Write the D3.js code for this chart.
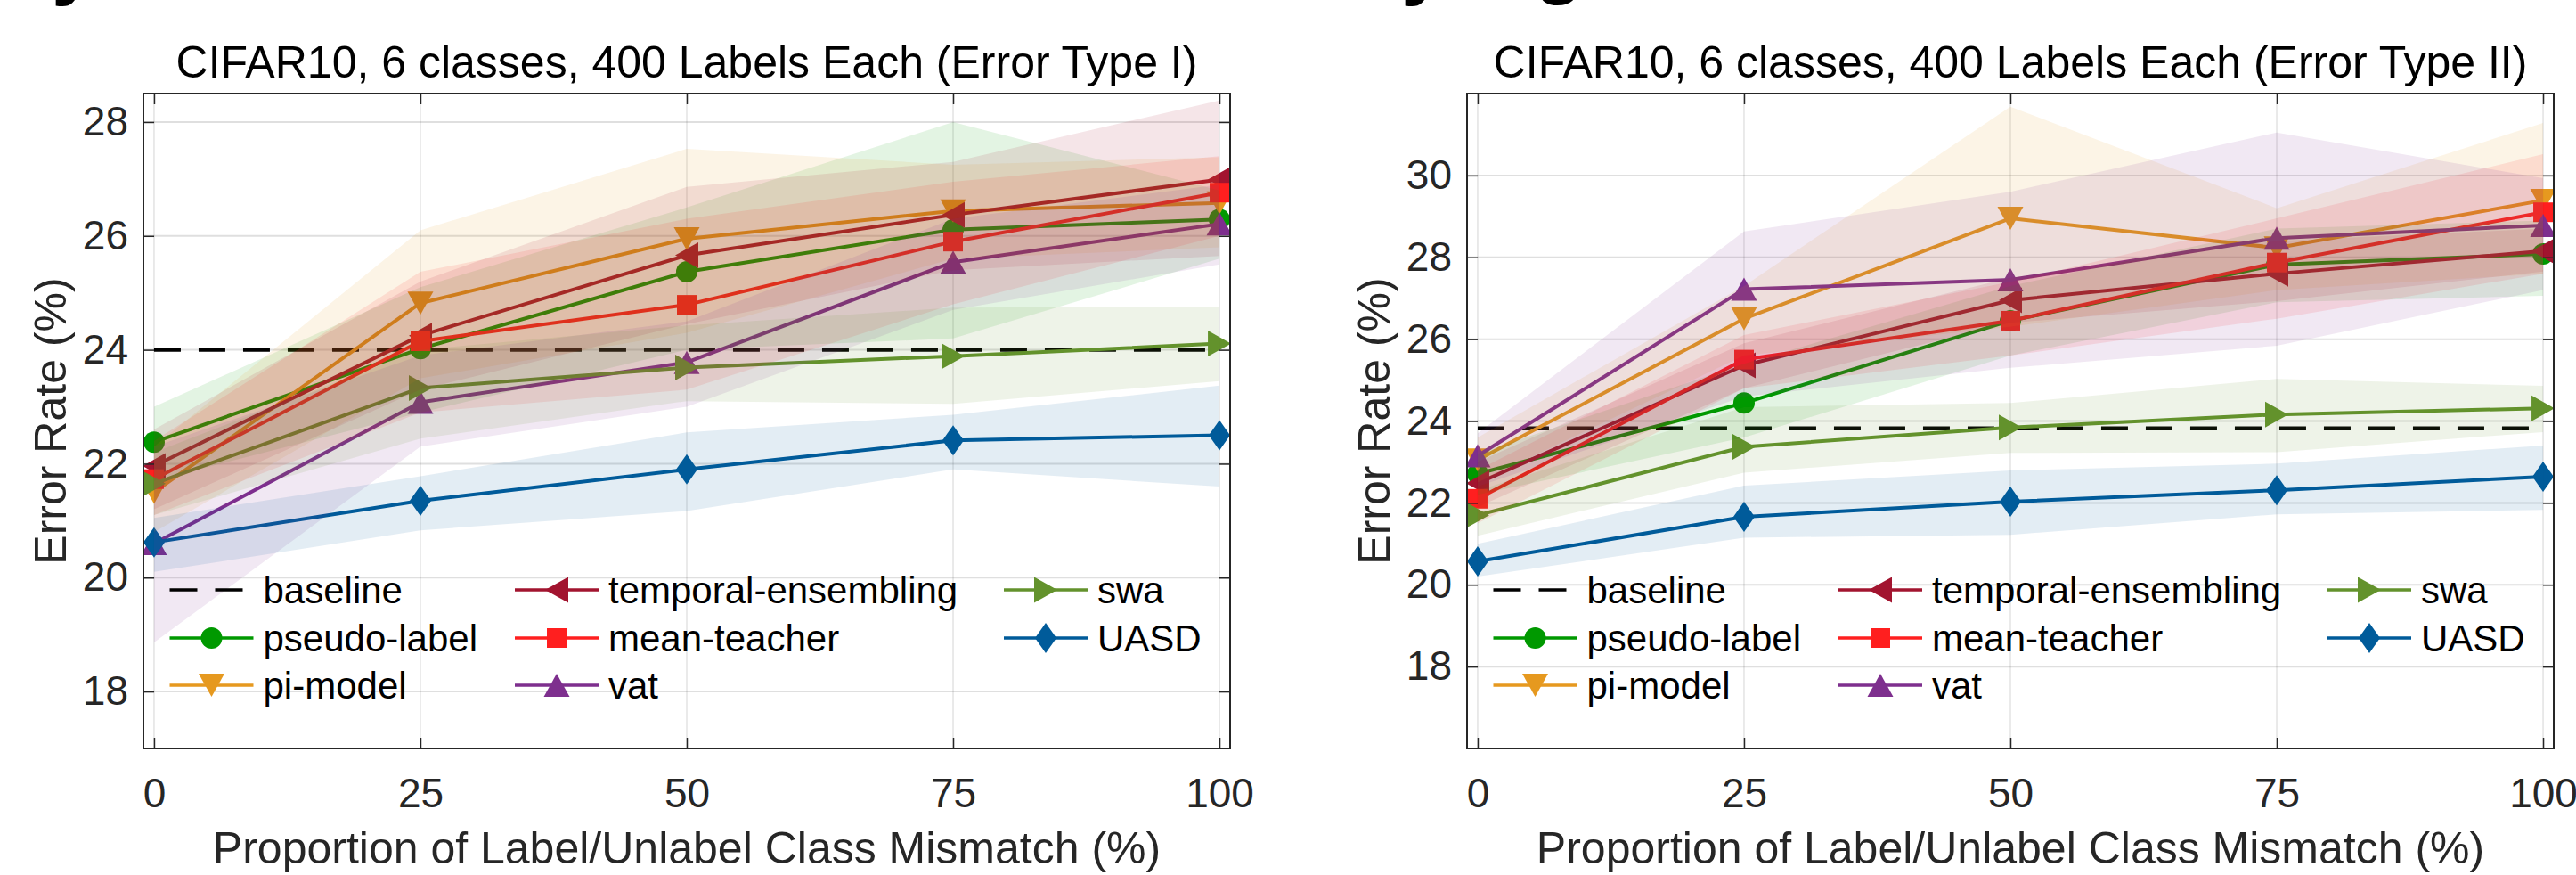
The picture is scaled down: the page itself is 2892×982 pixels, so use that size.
<!DOCTYPE html>
<html>
<head>
<meta charset="utf-8">
<script src="https://cdn.jsdelivr.net/npm/d3@7"></script>
<style>
  html, body { margin: 0; padding: 0; background: #fff; }
  svg { display: block; font-family: "Liberation Sans", Arial, Helvetica, sans-serif; }
</style>
</head>
<body>
<svg id="chart" width="2892" height="982"></svg>
<script>
// ---- data ----
var mismatch = [0, 25, 50, 75, 100];
var xTicks = [0, 25, 50, 75, 100];

var methods = ["pseudo-label", "pi-model", "temporal-ensembling", "mean-teacher", "vat", "swa", "UASD"];
var methodColors = ["#009900", "#e6991f", "#a2142f", "#ff1f1f", "#7e2f8e", "#63922c", "#005b9a"];
var methodMarkers = ["circle", "triDown", "triLeft", "square", "triUp", "triRight", "diamond"];

var panelTitles = ["CIFAR10, 6 classes, 400 Labels Each (Error Type I)",
                   "CIFAR10, 6 classes, 400 Labels Each (Error Type II)"];
var yDomains = [[17, 28.5], [16, 32]];
var t1Ticks = [18, 20, 22, 24, 26, 28];
var t2Ticks = [18, 20, 22, 24, 26, 28, 30];
var baselines = [24.0, 23.82];

// Error Type I (rows follow "methods")
var t1Mean = [
  [22.38, 24.02, 25.37, 26.11, 26.29],
  [21.5, 24.82, 25.95, 26.44, 26.58],
  [21.96, 24.25, 25.66, 26.37, 26.99],
  [21.73, 24.15, 24.79, 25.9, 26.76],
  [20.6, 23.08, 23.78, 25.54, 26.21],
  [21.65, 23.33, 23.69, 23.89, 24.11],
  [20.62, 21.35, 21.9, 22.41, 22.5]
];
var t1Hi = [
  [23.0, 25.1, 26.5, 28.0, 26.8],
  [22.3, 26.1, 27.53, 27.25, 27.38],
  [22.6, 25.2, 26.86, 27.3, 28.38],
  [22.4, 25.37, 26.3, 26.95, 27.4],
  [22.3, 23.9, 24.5, 26.3, 26.9],
  [22.2, 24.0, 24.43, 24.74, 24.76],
  [21.05, 21.78, 22.55, 22.86, 23.37]
];
var t1Lo = [
  [21.7, 22.9, 24.0, 24.2, 25.6],
  [20.8, 23.5, 24.3, 25.6, 25.8],
  [21.2, 23.3, 24.45, 25.4, 25.65],
  [21.1, 22.9, 23.3, 24.8, 26.0],
  [18.86, 22.3, 23.0, 24.7, 25.5],
  [21.1, 22.44, 23.1, 23.05, 23.45],
  [20.1, 20.83, 21.17, 21.9, 21.6]
];

// Error Type II
var t2Mean = [
  [22.71, 24.44, 26.45, 27.82, 28.08],
  [23.05, 26.5, 28.95, 28.23, 29.39],
  [22.48, 25.36, 26.95, 27.6, 28.15],
  [22.1, 25.5, 26.45, 27.87, 29.1],
  [23.15, 27.22, 27.45, 28.47, 28.78],
  [21.7, 23.37, 23.84, 24.16, 24.31],
  [20.57, 21.66, 22.03, 22.31, 22.64]
];
var t2Hi = [
  [23.2, 25.4, 27.3, 28.7, 28.9],
  [23.6, 27.3, 31.68, 29.2, 31.28],
  [23.0, 25.9, 27.5, 28.4, 28.7],
  [22.8, 26.1, 27.4, 28.95, 30.52],
  [23.7, 28.63, 29.6, 31.05, 29.93],
  [22.3, 24.34, 24.44, 25.03, 24.86],
  [21.0, 22.42, 22.79, 22.96, 23.4]
];
var t2Lo = [
  [22.2, 23.6, 25.6, 26.9, 27.06],
  [22.5, 25.6, 26.3, 27.2, 27.6],
  [21.9, 24.8, 26.4, 26.93, 27.65],
  [21.5, 24.8, 25.6, 26.5, 27.6],
  [22.4, 24.6, 25.3, 25.84, 27.2],
  [21.2, 22.74, 23.22, 23.24, 23.73],
  [20.2, 21.15, 21.22, 21.72, 21.83]
];

// legend, column-major, 3 rows ("baseline" first)
var legendColumns = [["baseline", "pseudo-label", "pi-model"],
                     ["temporal-ensembling", "mean-teacher", "vat"],
                     ["swa", "UASD"]];

// ---- drawing ----
var svg = d3.select("#chart");
var boxLefts = [161, 1647], boxTop = 105, boxW = 1220, boxH = 735;
var axisColor = "#262626";

function markerPath(type) {
  switch (type) {
    case "circle":   return "M-12,0A12,12 0 1,0 12,0A12,12 0 1,0 -12,0Z";
    case "square":   return "M-11,-11H11V11H-11Z";
    case "triUp":    return "M0,-13L14.5,13L-14.5,13Z";
    case "triDown":  return "M0,13L14.5,-13L-14.5,-13Z";
    case "triLeft":  return "M-13,0L13,-14.5L13,14.5Z";
    case "triRight": return "M13,0L-13,-14.5L-13,14.5Z";
    case "diamond":  return "M0,-17L12,0L0,17L-12,0Z";
  }
}

function drawPanel(p, yTicks, meanRows, loRows, hiRows) {
  var g = svg.append("g").attr("transform", "translate(" + boxLefts[p] + "," + boxTop + ")");

  var x = d3.scaleLinear().domain([-1, 101]).range([0, boxW]);
  var y = d3.scaleLinear().domain(yDomains[p]).range([boxH, 0]);

  g.append("clipPath").attr("id", "clip" + p)
    .append("rect").attr("width", boxW).attr("height", boxH);

  // grid
  g.append("g").selectAll("line").data(yTicks).enter().append("line")
    .attr("x1", 0).attr("x2", boxW)
    .attr("y1", function (d) { return y(d); }).attr("y2", function (d) { return y(d); })
    .attr("stroke", "rgba(38,38,38,0.15)").attr("stroke-width", 2);
  g.append("g").selectAll("line").data(xTicks).enter().append("line")
    .attr("y1", 0).attr("y2", boxH)
    .attr("x1", function (d) { return x(d); }).attr("x2", function (d) { return x(d); })
    .attr("stroke", "rgba(38,38,38,0.13)").attr("stroke-width", 1.5);

  var plot = g.append("g").attr("clip-path", "url(#clip" + p + ")");

  // baseline
  plot.append("line")
    .attr("x1", x(mismatch[0])).attr("x2", x(mismatch[mismatch.length - 1]))
    .attr("y1", y(baselines[p])).attr("y2", y(baselines[p]))
    .attr("stroke", "#000").attr("stroke-width", 4.5)
    .attr("stroke-dasharray", "30,20");

  var line = d3.line()
    .x(function (d, i) { return x(mismatch[i]); })
    .y(function (d) { return y(d); });

  methods.forEach(function (m, k) {
    plot.append("path")
      .attr("d", line(meanRows[k]))
      .attr("fill", "none")
      .attr("stroke", methodColors[k])
      .attr("stroke-width", 4)
      .attr("stroke-linejoin", "round");
    plot.append("g").selectAll("path").data(meanRows[k]).enter().append("path")
      .attr("d", markerPath(methodMarkers[k]))
      .attr("transform", function (d, i) { return "translate(" + x(mismatch[i]) + "," + y(d) + ")"; })
      .attr("fill", methodColors[k]);
  });

  // shaded spread, drawn over the lines like the original
  var area = d3.area()
    .x(function (d, i) { return x(mismatch[i]); })
    .y0(function (d) { return y(d[0]); })
    .y1(function (d) { return y(d[1]); });
  methods.forEach(function (m, k) {
    var band = loRows[k].map(function (lo, i) { return [lo, hiRows[k][i]]; });
    plot.append("path")
      .attr("d", area(band))
      .attr("fill", methodColors[k])
      .attr("fill-opacity", 0.11);
  });

  // axes with inward ticks
  var bottom = g.append("g").attr("transform", "translate(0," + boxH + ")")
    .call(d3.axisBottom(x).tickValues(xTicks).tickSizeInner(-12).tickSizeOuter(0).tickPadding(33));
  var left = g.append("g")
    .call(d3.axisLeft(y).tickValues(yTicks).tickSizeInner(-12).tickSizeOuter(0).tickPadding(17));
  g.append("g")
    .call(d3.axisTop(x).tickValues(xTicks).tickSizeInner(-12).tickSizeOuter(0).tickFormat(""));
  g.append("g").attr("transform", "translate(" + boxW + ",0)")
    .call(d3.axisRight(y).tickValues(yTicks).tickSizeInner(-12).tickSizeOuter(0).tickFormat(""));

  g.selectAll(".domain").remove();
  g.selectAll(".tick line").attr("stroke", axisColor).attr("stroke-width", 1.5);
  g.selectAll(".tick text")
    .attr("fill", axisColor)
    .style("font-size", "46px")
    .style("font-family", "'Liberation Sans', Arial, sans-serif");

  g.append("rect").attr("width", boxW).attr("height", boxH)
    .attr("fill", "none").attr("stroke", axisColor).attr("stroke-width", 2);

  // titles and labels
  g.append("text")
    .attr("x", boxW / 2).attr("y", 87 - boxTop)
    .attr("text-anchor", "middle")
    .style("font-size", "50px").attr("fill", "#000")
    .text(panelTitles[p]);
  g.append("text")
    .attr("x", boxW / 2).attr("y", 969 - boxTop)
    .attr("text-anchor", "middle")
    .style("font-size", "50px").attr("fill", axisColor)
    .text("Proportion of Label/Unlabel Class Mismatch (%)");
  g.append("text")
    .attr("transform", "translate(-87," + (boxH / 2) + ") rotate(-90)")
    .attr("text-anchor", "middle")
    .style("font-size", "50px").attr("fill", axisColor)
    .text("Error Rate (%)");

  // legend
  var colX = [29.5, 417, 966], rowY = [557, 611, 664];
  legendColumns.forEach(function (col, c) {
    col.forEach(function (name, r) {
      var lg = g.append("g").attr("transform", "translate(" + colX[c] + "," + rowY[r] + ")");
      if (name === "baseline") {
        lg.append("line").attr("x1", 0).attr("x2", 82)
          .attr("stroke", "#000").attr("stroke-width", 3.5)
          .attr("stroke-dasharray", "31,20");
      } else {
        var k = methods.indexOf(name);
        lg.append("line").attr("x1", 0).attr("x2", 94)
          .attr("stroke", methodColors[k]).attr("stroke-width", 3.5);
        lg.append("path").attr("d", markerPath(methodMarkers[k]))
          .attr("transform", "translate(47,0)")
          .attr("fill", methodColors[k]);
      }
      lg.append("text").attr("x", 105).attr("dy", "0.36em")
        .style("font-size", "42px").attr("fill", "#000")
        .text(name);
    });
  });
}

drawPanel(0, t1Ticks, t1Mean, t1Lo, t1Hi);
drawPanel(1, t2Ticks, t2Mean, t2Lo, t2Hi);

// descender fragments of the cropped caption line above the figure
var frag = svg.append("g").style("font-weight", "bold").style("font-size", "90px").attr("fill", "#000");
frag.append("text").attr("x", 83).attr("y", -12).attr("text-anchor", "middle").text("y");
frag.append("text").attr("x", 1598).attr("y", -12).attr("text-anchor", "middle").text("y");
frag.append("text").attr("x", 1750).attr("y", -13).attr("text-anchor", "middle").text("g");
</script>
</body>
</html>
